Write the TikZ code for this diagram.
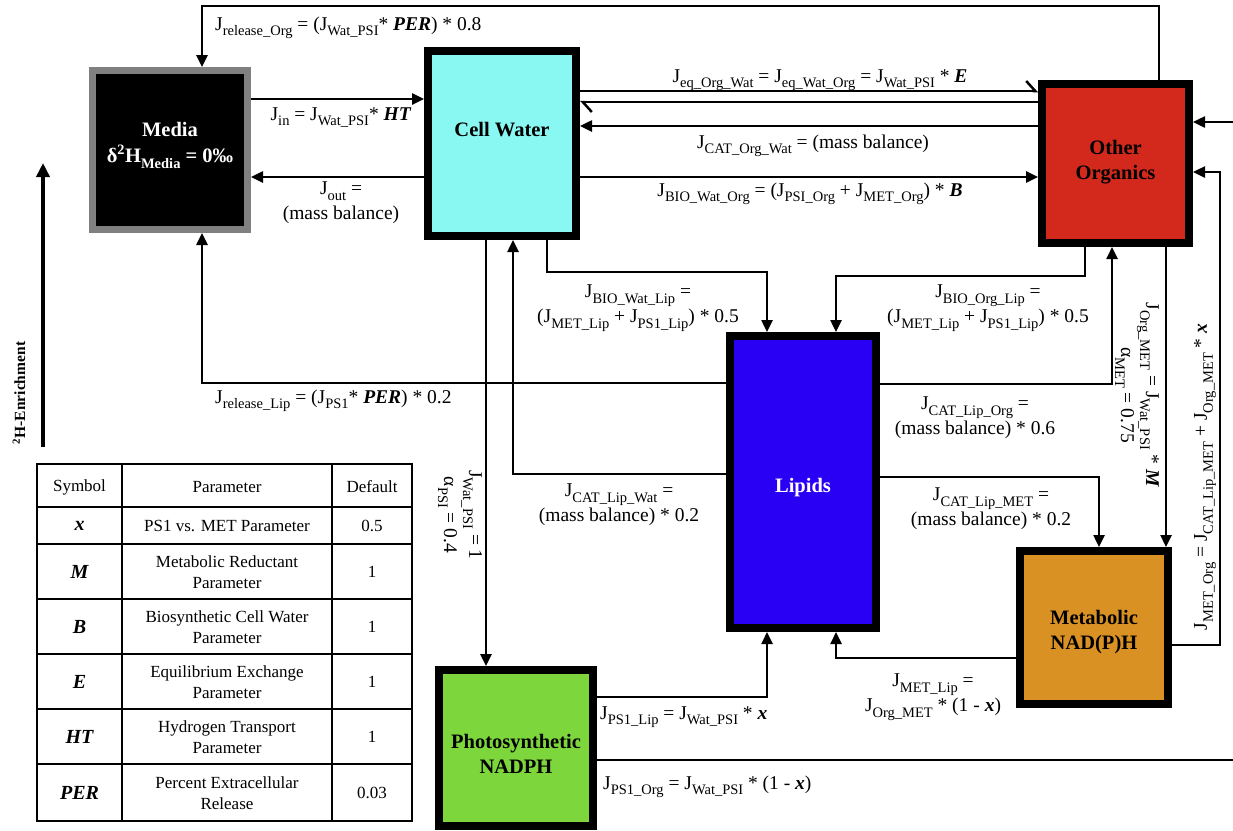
\documentclass[tikz,border=0pt]{standalone}
\usepackage{fontspec}
\setmainfont{Liberation Serif}
\usetikzlibrary{arrows.meta}
\newcommand\sbs[1]{\raisebox{-0.3em}{\fontsize{14.5}{15}\selectfont #1}}
\newcommand\bi[1]{\textbf{\textit{#1}}}
\newcommand\shiftv[2]{\raisebox{#1}[\height][\depth]{#2}}
\definecolor{cwater}{HTML}{8AF8F2}
\definecolor{corg}{HTML}{D3291C}
\definecolor{clip}{HTML}{2A00F5}
\definecolor{cmet}{HTML}{DA9124}
\definecolor{cpsi}{HTML}{7CD63C}
\definecolor{cgray}{HTML}{808080}
\tikzset{
  box/.style={draw=black, line width=8pt, rectangle, inner sep=0pt, align=center,
    font=\fontsize{20.5}{25}\selectfont\bfseries},
  ln/.style={line width=2.5pt},
  arr/.style={line width=2.5pt, -{Triangle[length=12pt,width=11pt]}},
  harp/.style={line width=2.5pt, -{Straight Barb[left,length=9pt,width=20pt]}},
  lbl/.style={font=\fontsize{19.5}{25}\selectfont, align=center, inner sep=0pt},
  tline/.style={line width=1.8pt},
  tbl/.style={font=\fontsize{17}{21}\selectfont, align=center, inner sep=0pt},
  sym/.style={font=\fontsize{20}{24}\selectfont\bfseries\itshape, inner sep=0pt}
}
\begin{document}
\begin{tikzpicture}[x=1pt,y=-1pt]
\useasboundingbox (0,0) rectangle (1233,830);
% boxes
\node[box, draw=cgray, line width=7pt, fill=black, text=white, minimum width=155pt, minimum height=159pt] (media) at (170,150) {\shiftv{6pt}{\begin{tabular}{@{}c@{}}Media\\[1pt] δ\textsuperscript{2}H\sbs{Media} = 0‰\end{tabular}}};
\node[box, fill=cwater, minimum width=148pt, minimum height=185pt] (water) at (502,143.5) {\shiftv{13.5pt}{Cell Water}};
\node[box, fill=corg, minimum width=147pt, minimum height=159pt] (org) at (1115.5,163.5) {\shiftv{1.5pt}{\begin{tabular}{@{}c@{}}Other\\Organics\end{tabular}}};
\node[box, fill=clip, text=white, minimum width=146pt, minimum height=292pt] (lip) at (803,482) {\shiftv{-5.5pt}{Lipids}};
\node[box, fill=cmet, minimum width=148pt, minimum height=153pt] (met) at (1094,627.5) {\shiftv{-4pt}{\begin{tabular}{@{}c@{}}Metabolic\\NAD(P)H\end{tabular}}};
\node[box, fill=cpsi, minimum width=154pt, minimum height=156pt] (psi) at (516,748) {\shiftv{-8pt}{\begin{tabular}{@{}c@{}}Photosynthetic\\NADPH\end{tabular}}};
% free ends
\coordinate (edgeA) at (1233,122);
\coordinate (edgeB) at (1233,760);
% connectors
\draw[arr] (org.north -| 1159,0) -- (1159,6) -- (202,6) -- (media.north -| 202,0);
\draw[arr] (media.east |- 0,99) -- (water.west |- 0,99);
\draw[arr] (water.west |- 0,177) -- (media.east |- 0,177);
\draw[harp] (water.east |- 0,91) -- (org.west |- 0,91);
\draw[harp] (org.west |- 0,102) -- (water.east |- 0,102);
\draw[arr] (org.west |- 0,126) -- (water.east |- 0,126);
\draw[arr] (water.east |- 0,177) -- (org.west |- 0,177);
\draw[arr] (water.south -| 547,0) -- (547,272) -- (767,272) -- (lip.north -| 767,0);
\draw[arr] (org.south -| 1085,0) -- (1085,276) -- (836,276) -- (lip.north -| 836,0);
\draw[arr] (lip.east |- 0,384) -- (1112,384) -- (org.south -| 1112,0);
\draw[arr] (lip.west |- 0,383) -- (202,383) -- (media.south -| 202,0);
\draw[arr] (lip.west |- 0,474) -- (513,474) -- (water.south -| 513,0);
\draw[arr] (lip.east |- 0,477) -- (1099,477) -- (met.north -| 1099,0);
\draw[arr] (water.south -| 486,0) -- (psi.north -| 486,0);
\draw[arr] (org.south -| 1166,0) -- (met.north -| 1166,0);
\draw[arr] (met.east |- 0,645) -- (1220,645) -- (1220,172) -- (org.east |- 0,172);
\draw[arr] (edgeA) -- (org.east |- edgeA);
\draw[ln] (psi.east |- edgeB) -- (edgeB);
\draw[arr] (psi.east |- 0,697) -- (767,697) -- (lip.south -| 767,0);
\draw[arr] (met.west |- 0,658) -- (836,658) -- (lip.south -| 836,0);
% labels
\node[lbl, anchor=base west] (l1) at (215,30) {J\sbs{release\_Org} = (J\sbs{Wat\_PSI}* \bi{PER}) * 0.8};
\node[lbl, anchor=base] (l2) at (341,120) {J\sbs{in} = J\sbs{Wat\_PSI}* \bi{HT}};
\node[lbl] (l3) at (341,203) {J\sbs{out} =\\(mass balance)};
\node[lbl, anchor=base] (l4) at (820,82) {J\sbs{eq\_Org\_Wat} = J\sbs{eq\_Wat\_Org} = J\sbs{Wat\_PSI} * \bi{E}};
\node[lbl, anchor=base] (l5) at (813,148) {J\sbs{CAT\_Org\_Wat} = (mass balance)};
\node[lbl, anchor=base] (l6) at (810,196) {J\sbs{BIO\_Wat\_Org} = (J\sbs{PSI\_Org} + J\sbs{MET\_Org}) * \bi{B}};
\node[lbl] (l7) at (638,308) {J\sbs{BIO\_Wat\_Lip} =\\(J\sbs{MET\_Lip} + J\sbs{PS1\_Lip}) * 0.5};
\node[lbl] (l8) at (988,308) {J\sbs{BIO\_Org\_Lip} =\\(J\sbs{MET\_Lip} + J\sbs{PS1\_Lip}) * 0.5};
\node[lbl] (l9) at (975,418) {J\sbs{CAT\_Lip\_Org} =\\(mass balance) * 0.6};
\node[lbl, anchor=base west] (l10) at (215,403) {J\sbs{release\_Lip} = (J\sbs{PS1}* \bi{PER}) * 0.2};
\node[lbl] (l11) at (619,505) {J\sbs{CAT\_Lip\_Wat} =\\(mass balance) * 0.2};
\node[lbl] (l12) at (991,509) {J\sbs{CAT\_Lip\_MET} =\\(mass balance) * 0.2};
\node[lbl, anchor=base west] (l13) at (600,719) {J\sbs{PS1\_Lip} = J\sbs{Wat\_PSI} * \bi{x}};
\node[lbl] (l14) at (933,697) {J\sbs{MET\_Lip} =\\J\sbs{Org\_MET} * (1 - \bi{x})};
\node[lbl, anchor=base west] (l15) at (603,789) {J\sbs{PS1\_Org} = J\sbs{Wat\_PSI} * (1 - \bi{x})};
\node[lbl, rotate=-90] (l16) at (460,515) {J\sbs{Wat\_PSI} = 1\\α\sbs{PSI} = 0.4};
\node[lbl, rotate=-90] (l17) at (1137,395) {J\sbs{Org\_MET} = J\sbs{Wat\_PSI} * \bi{M}\\α\sbs{MET} = 0.75};
\node[lbl, rotate=90] (l18) at (1205,477) {J\sbs{MET\_Org} = J\sbs{CAT\_Lip\_MET} + J\sbs{Org\_MET} * \bi{x}};
% enrichment axis
\coordinate (enrA) at (43,447);
\coordinate (enrB) at (43,163);
\draw[line width=4pt, -{Triangle[length=14pt,width=13pt]}] (enrA) -- (enrB);
\node[rotate=90, inner sep=0pt, font=\fontsize{15.5}{18}\selectfont\bfseries] (enrtxt) at (19,393) {\textsuperscript{2}H-Enrichment};
% table
\draw[tline] (37,464) rectangle (412,821);
\foreach \yy in {507,544,599,654,709,764} \draw[tline] (37,\yy) -- (412,\yy);
\draw[tline] (122,464) -- (122,821);
\draw[tline] (332,464) -- (332,821);
\node[tbl] (th1) at (79.5,487) {Symbol};
\node[tbl] (th2) at (227,487) {Parameter};
\node[tbl] (th3) at (372,487) {Default};
\node[sym] (s1) at (79.5,526) {x};
\node[sym] (s2) at (79.5,572) {M};
\node[sym] (s3) at (79.5,627) {B};
\node[sym] (s4) at (79.5,682) {E};
\node[sym] (s5) at (79.5,737) {HT};
\node[sym] (s6) at (79.5,793) {PER};
\node[tbl] (p1) at (227,526) {PS1 vs. MET Parameter};
\node[tbl] (p2) at (227,572) {Metabolic Reductant\\Parameter};
\node[tbl] (p3) at (227,627) {Biosynthetic Cell Water\\Parameter};
\node[tbl] (p4) at (227,682) {Equilibrium Exchange\\Parameter};
\node[tbl] (p5) at (227,737) {Hydrogen Transport\\Parameter};
\node[tbl] (p6) at (227,793) {Percent Extracellular\\Release};
\node[tbl] (d1) at (372,526) {0.5};
\node[tbl] (d2) at (372,572) {1};
\node[tbl] (d3) at (372,627) {1};
\node[tbl] (d4) at (372,682) {1};
\node[tbl] (d5) at (372,737) {1};
\node[tbl] (d6) at (372,793) {0.03};
\end{tikzpicture}
\end{document}
